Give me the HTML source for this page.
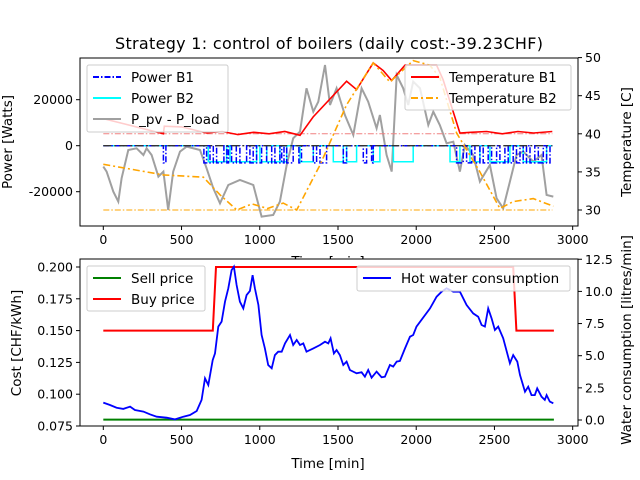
<!DOCTYPE html>
<html><head><meta charset="utf-8"><style>
html,body{margin:0;padding:0;background:#fff;}
svg{display:block;font-family:"DejaVu Sans","Liberation Sans",sans-serif;}
</style></head><body>
<svg id="chart" width="640" height="480" viewBox="0 0 640 480" xmlns="http://www.w3.org/2000/svg">
<rect width="640" height="480" fill="#fff"/>
<g id="topGroup"></g>
<g id="botGroup"></g>
</svg>
<script>
// ---------- data (time in minutes) ----------
const tempB1T=[0,384,390,500,660,760,860,960,1060,1160,1257,1341,1555,1619,1725,1789,1843,1928,2130,2172,2279,2350,2450,2550,2650,2750,2870];
const tempB1V=[42.0,40.0,41.0,40.9,40.1,40.3,39.9,40.2,40.0,40.3,39.8,42.2,46.9,45.8,49.3,48.3,47.0,49.0,49.0,47.1,40.1,40.2,40.3,40.0,40.3,40.1,40.3];
const tempB2T=[0,384,640,746,853,950,1050,1150,1236,1385,1555,1725,1832,1981,2087,2151,2258,2407,2535,2620,2748,2876];
const tempB2V=[36.0,34.6,34.3,32.0,30.0,30.8,30.2,30.9,30.0,35.9,43.8,49.3,46.8,49.6,49.0,47.4,40.1,35.0,30.2,31.1,31.5,30.5];
const pvT=[0,21,64,96,117,160,213,256,277,309,352,384,415,447,490,533,618,660,703,746,799,873,959,1012,1086,1129,1172,1214,1257,1299,1342,1374,1417,1449,1491,1544,1598,1651,1693,1747,1768,1811,1843,1875,1917,1949,1981,2024,2077,2109,2151,2194,2237,2279,2311,2364,2407,2471,2514,2556,2599,2641,2684,2748,2801,2833,2876];
const pvV=[-9100,-11280,-19970,-24320,-14180,-1860,-1140,-4030,-1140,-4030,-13450,-11280,-27940,-11280,-2580,-400,-1860,-9830,-18520,-25040,-17070,-14900,-17070,-30840,-30110,-24320,-8380,3210,6110,24950,14800,19150,35090,17700,24950,13350,4660,24950,19150,7560,13350,-4030,-11280,30740,24950,17700,27850,24950,9010,14800,9010,1040,1760,-11280,310,-4030,-15630,-8380,-22870,-27220,-15630,-4030,-2580,-6930,-4030,-21420,-22150];
const b1Start=[384,643,682,724,790,820,873,937,980,1044,1097,1140,1172,1250,1342,1385,1534,1662,1715,2258,2322,2375,2428,2482,2535,2588,2641,2684,2727,2780,2833];
const b1End=[400,660,703,771,800,850,916,958,1012,1076,1129,1155,1214,1267,1363,1427,1555,1683,1725,2300,2354,2407,2460,2514,2567,2620,2663,2705,2758,2812,2855];
const b2Start=[671,810,1001,1257,1470,1555,1726,1854,1045,2216,2343,2471,2684];
const b2End=[788,980,1172,1342,1534,1619,1768,1981,1129,2279,2407,2599,2833];
const b1Level=-7500, b2Level=-7000;
const priceT=[0,700,720,2620,2640,2880];
const buyV=[0.15,0.15,0.2,0.2,0.15,0.15];
const sellV=[0.08,0.08,0.08,0.08,0.08,0.08];
const waterT=[0,43,85,128,171,202,256,298,341,405,458,511,554,597,628,650,671,699,714,735,756,778,799,820,835,852,873,895,916,937,954,969,991,1012,1033,1054,1076,1097,1118,1140,1161,1193,1214,1236,1257,1278,1299,1342,1385,1417,1438,1453,1474,1491,1512,1534,1555,1576,1619,1651,1672,1693,1715,1747,1779,1800,1832,1853,1875,1896,1928,1960,1981,2002,2088,2130,2162,2194,2237,2279,2322,2364,2396,2418,2439,2460,2482,2503,2524,2556,2599,2620,2646,2663,2695,2716,2737,2758,2773,2801,2822,2833,2854,2876];
const waterV=[1.35,1.17,0.96,0.86,1.04,0.78,0.65,0.44,0.26,0.18,0.05,0.26,0.39,0.70,1.56,3.24,2.72,4.66,5.18,7.26,7.65,9.20,10.24,11.66,11.92,10.50,9.20,8.68,9.72,10.03,11.27,10.24,8.94,6.61,5.57,4.28,4.02,5.05,5.31,5.31,5.96,6.61,5.83,6.22,5.83,5.96,5.31,5.57,5.83,6.09,5.96,6.35,5.18,5.44,5.05,4.28,4.54,3.89,3.63,3.71,3.37,3.89,3.29,3.76,3.32,3.37,4.28,4.15,4.54,4.59,5.57,6.48,6.61,7.26,8.68,9.59,9.98,10.24,9.98,9.98,8.94,8.29,8.03,7.39,7.26,8.68,7.90,7.00,7.26,6.35,4.41,5.05,4.54,3.50,2.20,2.59,1.94,1.94,2.46,1.81,1.56,1.94,1.43,1.30];
const xTicks=[0,500,1000,1500,2000,2500,3000];
const powerTicks=[-20000,0,20000];
const tempTicks=[30,35,40,45,50];
const costTicks=[0.075,0.100,0.125,0.150,0.175,0.200];
const costTickLabels=["0.075","0.100","0.125","0.150","0.175","0.200"];
const waterTicks=[0,2.5,5,7.5,10,12.5];
const waterTickLabels=["0.0","2.5","5.0","7.5","10.0","12.5"];

// ---------- scales ----------
const NS="http://www.w3.org/2000/svg";
const L=80,R=578;
const xs=t=>103.3+t*78.23/500;
const T0=58,T1=226,B0=259,B1=426;
const yP=p=>145.7-p*0.0023;
const yT=v=>210-(v-30)*7.62;
const yC=c=>426-(c-0.075)/0.025*31.8;
const yW=w=>420-w*12.86;

function mk(parent,tag,attrs,text){const el=document.createElementNS(NS,tag);for(const k in attrs)el.setAttribute(k,attrs[k]);if(text!==undefined)el.textContent=text;parent.appendChild(el);return el;}
function pathD(ts,vs,fy){return ts.map((t,i)=>(i?'L':'M')+xs(t).toFixed(1)+','+fy(vs[i]).toFixed(1)).join(' ');}
function stepD(st,en,lev){let d='M'+xs(0)+','+yP(0);const o=st.map((s,i)=>[s,en[i]]).sort((a,b)=>a[0]-b[0]);for(const [s,en2] of o){d+=' L'+xs(s).toFixed(1)+','+yP(0)+' L'+xs(s).toFixed(1)+','+yP(lev).toFixed(1)+' L'+xs(en2).toFixed(1)+','+yP(lev).toFixed(1)+' L'+xs(en2).toFixed(1)+','+yP(0);}d+=' L'+xs(2870)+','+yP(0);return d;}

const topG=document.getElementById('topGroup'), botG=document.getElementById('botGroup');
let e=mk(topG,'text',{x:329,y:49,'text-anchor':'middle','font-size':16,textLength:428,fill:'#000'},'Strategy 1: control of boilers (daily cost:-39.23CHF)');



e=mk(topG,'text',{x:328,y:266,'text-anchor':'middle','font-size':13.5},'Time [min]');


e=mk(topG,'text',{transform:'translate(12,142) rotate(-90)','text-anchor':'middle','font-size':13.5},'Power [Watts]');


e=mk(topG,'text',{transform:'translate(631,142) rotate(-90)','text-anchor':'middle','font-size':13.5},'Temperature [C]');



const cp=mk(topG,'clipPath',{id:'cpTop'});mk(cp,'rect',{x:L,y:T0,width:R-L,height:T1-T0});
const gT=mk(topG,'g',{'clip-path':'url(#cpTop)'});
e=mk(gT,'path',{d:pathD(pvT,pvV,yP),fill:'none',stroke:'#a0a0a0','stroke-width':2});


e=mk(gT,'path',{d:stepD(b2Start,b2End,b2Level),fill:'none',stroke:'#00ffff','stroke-width':1.5});


e=mk(gT,'path',{d:stepD(b1Start,b1End,b1Level),fill:'none',stroke:'#0000ff','stroke-width':1.5,'stroke-dasharray':'6,2,1.5,2'});


e=mk(gT,'line',{x1:xs(0),x2:xs(2870),y1:yP(0),y2:yP(0),stroke:'#333','stroke-width':1.3,'stroke-dasharray':'8,3,2,3'});


e=mk(gT,'line',{x1:xs(0),x2:xs(2870),y1:yT(40),y2:yT(40),stroke:'#f08080','stroke-width':1,'stroke-dasharray':'6,2,1.5,2'});


e=mk(gT,'line',{x1:xs(0),x2:xs(2870),y1:yT(30),y2:yT(30),stroke:'#ffa500','stroke-width':1,'stroke-dasharray':'6,2,1.5,2'});


e=mk(gT,'path',{d:pathD(tempB1T,tempB1V,yT),fill:'none',stroke:'#ff0000','stroke-width':1.6});


e=mk(gT,'path',{d:pathD(tempB2T,tempB2V,yT),fill:'none',stroke:'#ffa500','stroke-width':1.6,'stroke-dasharray':'7,3,2,3'});


mk(topG,'rect',{x:L,y:T0,width:R-L,height:T1-T0,fill:'none',stroke:'#000','stroke-width':1});
xTicks.forEach(t=>{mk(topG,'line',{x1:xs(t),x2:xs(t),y1:T1,y2:T1+4,stroke:'#000'});
 const tx=mk(topG,'text',{x:xs(t),y:T1+18,'text-anchor':'middle','font-size':12.5},String(t));
 
 });
powerTicks.forEach(p=>{mk(topG,'line',{x1:L-4,x2:L,y1:yP(p),y2:yP(p),stroke:'#000'});
 const tx=mk(topG,'text',{x:L-7,y:yP(p)+4.5,'text-anchor':'end','font-size':12.5},String(p));
 
 });
tempTicks.forEach(v=>{mk(topG,'line',{x1:R,x2:R+4,y1:yT(v),y2:yT(v),stroke:'#000'});
 const tx=mk(topG,'text',{x:R+7,y:yT(v)+4.5,'font-size':12.5},String(v));
 
 });

function legend(parent,x,y,w,h,items,name){
 const g=mk(parent,'g',{});
 
 
 mk(g,'rect',{x:x,y:y,width:w,height:h,rx:2,fill:'#fff','fill-opacity':0.8,stroke:'#ccc'});
 items.forEach((it,i)=>{const yy=y+12+i*21;
  mk(g,'line',{x1:x+6,x2:x+34,y1:yy,y2:yy,stroke:it[1],'stroke-width':2,'stroke-dasharray':it[2]||'none'});
  const t=mk(g,'text',{x:x+44,y:yy+5,'font-size':13.5},it[0]);
  
  });
}
legend(topG,87,65,141,67,[['Power B1','#0000ff','6,2,1.5,2'],['Power B2','#00ffff'],['P_pv - P_load','#a0a0a0']],'power-legend');
legend(topG,405,65,166,45,[['Temperature B1','#ff0000'],['Temperature B2','#ffa500','7,3,2,3']],'temperature-legend');

mk(botG,'rect',{x:L,y:B0,width:R-L,height:B1-B0,fill:'#fff'});
const cb=mk(botG,'clipPath',{id:'cpBot'});mk(cb,'rect',{x:L,y:B0,width:R-L,height:B1-B0});
const gB=mk(botG,'g',{'clip-path':'url(#cpBot)'});
e=mk(gB,'path',{d:pathD(priceT,sellV,yC),fill:'none',stroke:'#008000','stroke-width':2});


e=mk(gB,'path',{d:pathD(priceT,buyV,yC),fill:'none',stroke:'#ff0000','stroke-width':2});


e=mk(gB,'path',{d:pathD(waterT,waterV,yW),fill:'none',stroke:'#0000ff','stroke-width':1.8});


mk(botG,'rect',{x:L,y:B0,width:R-L,height:B1-B0,fill:'none',stroke:'#000','stroke-width':1});
xTicks.forEach(t=>{mk(botG,'line',{x1:xs(t),x2:xs(t),y1:B1,y2:B1+4,stroke:'#000'});
 const tx=mk(botG,'text',{x:xs(t),y:B1+18,'text-anchor':'middle','font-size':12.5},String(t));
 
 });
costTicks.forEach((c,i)=>{mk(botG,'line',{x1:L-4,x2:L,y1:yC(c),y2:yC(c),stroke:'#000'});
 const tx=mk(botG,'text',{x:L-7,y:yC(c)+4.5,'text-anchor':'end','font-size':12.5},costTickLabels[i]);
 
 });
waterTicks.forEach((w,i)=>{mk(botG,'line',{x1:R,x2:R+4,y1:yW(w),y2:yW(w),stroke:'#000'});
 const tx=mk(botG,'text',{x:R+7,y:yW(w)+4.5,'font-size':12.5},waterTickLabels[i]);
 
 });
e=mk(botG,'text',{x:328,y:468,'text-anchor':'middle','font-size':13.5},'Time [min]');


e=mk(botG,'text',{transform:'translate(21,343) rotate(-90)','text-anchor':'middle','font-size':13.5},'Cost [CHF/kWh]');


e=mk(botG,'text',{transform:'translate(631,340) rotate(-90)','text-anchor':'middle','font-size':13.5},'Water consumption [litres/min]');


legend(botG,87,266,118,45,[['Sell price','#008000'],['Buy price','#ff0000']],'price-legend');
legend(botG,357,266,213,25,[['Hot water consumption','#0000ff']],'water-legend');
</script>
</body></html>
